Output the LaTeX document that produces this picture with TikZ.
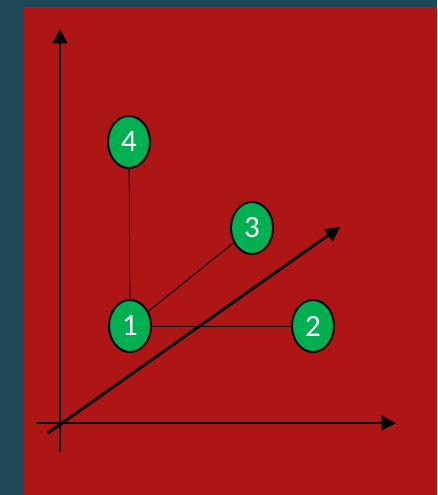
\documentclass[tikz,border=0pt]{standalone}
\usepackage{fontspec}
\setmainfont{Carlito}
\usetikzlibrary{shapes.geometric,arrows.meta}
\definecolor{slidebg}{HTML}{1D4A56}
\definecolor{boxred}{HTML}{AE1615}
\definecolor{dotgreen}{HTML}{00B050}
\begin{document}
\begin{tikzpicture}[x=0.025cm,y=-0.025cm,
        vertex/.style={draw=black, line width=1.4pt, fill=dotgreen, ellipse, inner sep=0pt,
            minimum width=1.05cm, minimum height=1.3cm, text=white, font=\fontsize{22}{24}\selectfont},
        axis/.style={line width=2pt, -{Triangle[length=0.36cm,width=0.36cm]}},
        link/.style={line width=0.7pt}]
    % background
    \fill[slidebg] (0,0) rectangle (437,495);
    \useasboundingbox (0,0) rectangle (437,495);
    \fill[boxred] (24,7) rectangle (437,495);
    % axes
    \coordinate (ystart) at (60,452);
    \coordinate (yend) at (60,29);
    \coordinate (xstart) at (36,423);
    \coordinate (xend) at (396,423);
    \coordinate (zstart) at (48,433);
    \coordinate (zend) at (340,227);
    \draw[axis] (ystart) -- (yend);
    \draw[axis] (xstart) -- (xend);
    \draw[axis] (zstart) -- (zend);
    % points
    \node[vertex] (n4) at (129,142) {4};
    \node[vertex] (n3) at (252,228) {3};
    \node[vertex] (n1) at (130,326) {1};
    \node[vertex] (n2) at (313,326) {2};
    \draw[link] (n1) -- (n4);
    \draw[link] (n1) -- (n3);
    \draw[link] (n1) -- (n2);
\end{tikzpicture}
\end{document}
